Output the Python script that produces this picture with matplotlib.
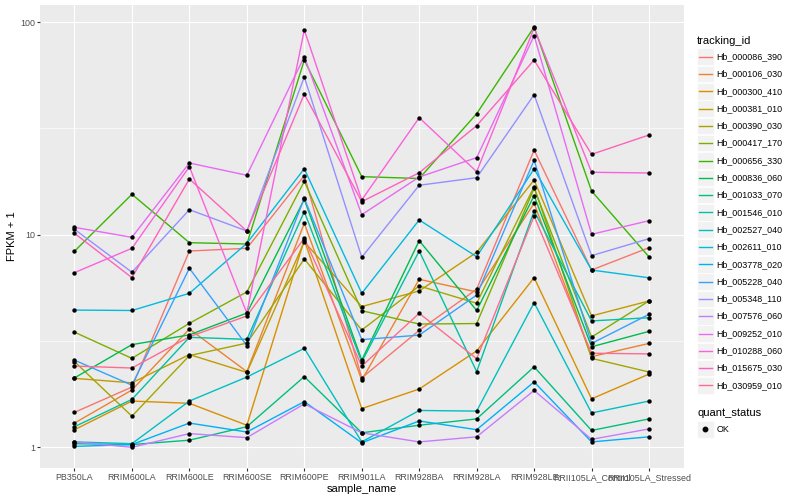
import matplotlib
matplotlib.use("Agg")
import matplotlib.pyplot as plt
from matplotlib.patches import Rectangle
from matplotlib.lines import Line2D
from matplotlib.ticker import FixedLocator, NullFormatter

plt.rcParams['font.family'] = ['Liberation Sans', 'DejaVu Sans']

samples = ["PB350LA", "RRIM600LA", "RRIM600LE", "RRIM600SE", "RRIM600PE",
           "RRIM901LA", "RRIM928BA", "RRIM928LA", "RRIM928LE",
           "RRII105LA_Control", "RRII105LA_Stressed"]

tracking_ids = ["Hb_000086_390", "Hb_000106_030", "Hb_000300_410", "Hb_000381_010",
                "Hb_000390_030", "Hb_000417_170", "Hb_000656_330", "Hb_000836_060",
                "Hb_001033_070", "Hb_001546_010", "Hb_002527_040", "Hb_002611_010",
                "Hb_003778_020", "Hb_005228_040", "Hb_005348_110", "Hb_007576_060",
                "Hb_009252_010", "Hb_010288_060", "Hb_015675_030", "Hb_030959_010"]

# FPKM + 1 values per gene, in sample order
hb_000086_390 = [1.46, 1.92, 8.38, 8.63, 18.95, 2.12, 3.55, 5.54, 25.0, 6.82, 8.69]
hb_000106_030 = [1.30, 1.86, 3.60, 2.27, 11.31, 2.07, 6.17, 5.38, 14.05, 2.67, 3.08]
hb_000300_410 = [1.21, 1.65, 1.61, 1.27, 9.44, 1.52, 1.88, 2.84, 6.28, 1.69, 2.21]
hb_000381_010 = [2.11, 2.01, 2.73, 2.25, 9.27, 4.59, 5.44, 8.26, 18.08, 4.15, 4.88]
hb_000390_030 = [2.53, 1.40, 2.70, 3.09, 7.69, 3.56, 5.74, 4.76, 16.82, 2.62, 2.26]
hb_000417_170 = [3.48, 2.62, 3.83, 5.38, 17.83, 4.39, 3.80, 3.82, 16.53, 3.30, 4.88]
hb_000656_330 = [8.36, 15.49, 9.17, 9.04, 66.3, 18.75, 18.38, 37.08, 94.8, 16.05, 7.86]
hb_000836_060 = [2.12, 3.04, 3.38, 4.28, 14.67, 2.57, 9.37, 4.40, 15.26, 2.97, 3.51]
hb_001033_070 = [1.04, 1.03, 1.08, 1.25, 2.15, 1.17, 1.27, 1.36, 2.39, 1.20, 1.36]
hb_001546_010 = [1.25, 1.68, 3.29, 3.22, 12.83, 2.52, 8.38, 2.27, 12.93, 3.93, 4.07]
hb_002527_040 = [1.06, 1.04, 1.65, 2.14, 2.92, 1.06, 1.49, 1.48, 4.79, 1.45, 1.65]
hb_002611_010 = [4.42, 4.40, 5.30, 9.11, 20.43, 5.30, 11.73, 7.88, 20.4, 6.82, 6.27]
hb_003778_020 = [1.01, 1.03, 1.30, 1.18, 1.64, 1.05, 1.33, 1.21, 2.03, 1.06, 1.12]
hb_005228_040 = [2.57, 1.96, 6.95, 3.01, 14.83, 3.21, 3.37, 5.20, 22.39, 3.08, 4.22]
hb_005348_110 = [10.6, 6.66, 13.11, 10.41, 55.2, 7.83, 17.08, 18.54, 45.55, 7.97, 9.58]
hb_007576_060 = [1.06, 1.00, 1.16, 1.11, 1.60, 1.17, 1.06, 1.12, 1.85, 1.09, 1.22]
hb_009252_010 = [10.83, 9.72, 21.74, 19.03, 68.77, 12.42, 18.68, 23.03, 86.3, 10.04, 11.64]
hb_010288_060 = [6.63, 8.63, 20.89, 4.28, 91.8, 14.57, 35.5, 19.78, 93.8, 19.66, 19.51]
hb_015675_030 = [10.15, 6.28, 18.28, 10.4, 45.9, 14.30, 19.57, 32.56, 66.3, 23.88, 29.44]
hb_030959_010 = [2.41, 2.36, 3.31, 4.15, 9.62, 2.41, 4.27, 2.61, 12.24, 2.77, 2.75]

series = [hb_000086_390, hb_000106_030, hb_000300_410, hb_000381_010, hb_000390_030,
          hb_000417_170, hb_000656_330, hb_000836_060, hb_001033_070, hb_001546_010,
          hb_002527_040, hb_002611_010, hb_003778_020, hb_005228_040, hb_005348_110,
          hb_007576_060, hb_009252_010, hb_010288_060, hb_015675_030, hb_030959_010]

colors = ["#F8766D", "#EA8331", "#D89000", "#C09B00", "#A3A500", "#7CAE00", "#39B600",
          "#00BB4E", "#00BF7D", "#00C1A3", "#00BFC4", "#00BAE0", "#00B0F6", "#35A2FF",
          "#9590FF", "#C77CFF", "#E76BF3", "#FA62DB", "#FF62BC", "#FF6C91"]

W, H = 800, 500
fig = plt.figure(figsize=(8, 5), dpi=100)
fig.patch.set_facecolor("white")

pl, pr, pt, pb = 40, 683.5, 5, 468.3
ax = fig.add_axes([pl / W, 1 - pb / H, (pr - pl) / W, (pb - pt) / H])
ax.set_facecolor("#EBEBEB")
for s in ax.spines.values():
    s.set_visible(False)

x = list(range(len(samples)))
for vals, col in zip(series, colors):
    ax.plot(x, vals, color=col, lw=1.0, zorder=2, solid_capstyle="butt")
for vals in series:
    ax.scatter(x, vals, s=10, color="black", marker="o", linewidths=0, zorder=3)

ax.set_yscale("log")
ax.set_ylim(10 ** -0.0988, 10 ** 2.0804)
ax.set_xlim(-0.6, len(samples) - 0.4)
ax.set_yticks([1, 10, 100])
ax.set_yticklabels(["1", "10", "100"])
ax.yaxis.set_minor_locator(FixedLocator([10 ** 0.5, 10 ** 1.5]))
ax.yaxis.set_minor_formatter(NullFormatter())
ax.set_xticks(x)
ax.set_xticklabels(samples)
ax.tick_params(axis="both", which="major", length=2, width=0.8, color="#333333",
               labelsize=6.4, labelcolor="#4D4D4D", pad=1.5)
ax.tick_params(axis="y", which="minor", length=0)
ax.grid(which="major", color="white", lw=0.85)
ax.grid(which="minor", axis="y", color="white", lw=0.45)
ax.set_axisbelow(True)


def fx(px):
    return px / W


def fy(py):
    return 1 - py / H


fig.text(fx((pl + pr) / 2), fy(489), "sample_name", ha="center", va="center", fontsize=8)
fig.text(fx(12), fy((pt + pb) / 2), "FPKM + 1", ha="center", va="center",
         rotation=90, fontsize=8)

# legend: tracking_id
fig.text(fx(697), fy(40.7), "tracking_id", ha="left", va="center", fontsize=8)
step = 17.3
y0 = 56.7
for i, (name, col) in enumerate(zip(tracking_ids, colors)):
    yc = y0 + i * step
    fig.patches.append(Rectangle((fx(697.3), fy(yc + 8.3)), 16.3 / W, 16.6 / H,
                                 transform=fig.transFigure, facecolor="#F2F2F2",
                                 edgecolor="white", lw=0.5))
    fig.lines.append(Line2D([fx(699), fx(712)], [fy(yc), fy(yc)],
                            transform=fig.transFigure, color=col, lw=1.0))
    fig.text(fx(716.7), fy(yc), name, ha="left", va="center", fontsize=6.4)

# legend: quant_status
fig.text(fx(697), fy(412.7), "quant_status", ha="left", va="center", fontsize=8)
yc = 429.3
fig.patches.append(Rectangle((fx(697.3), fy(yc + 8.3)), 16.3 / W, 16.6 / H,
                             transform=fig.transFigure, facecolor="#F2F2F2",
                             edgecolor="white", lw=0.5))
fig.lines.append(Line2D([fx(705.4)], [fy(yc)], transform=fig.transFigure,
                        marker="o", markersize=3.2, color="black", lw=0))
fig.text(fx(716.7), fy(yc), "OK", ha="left", va="center", fontsize=6.4)

fig.savefig("out.png", dpi=100)
